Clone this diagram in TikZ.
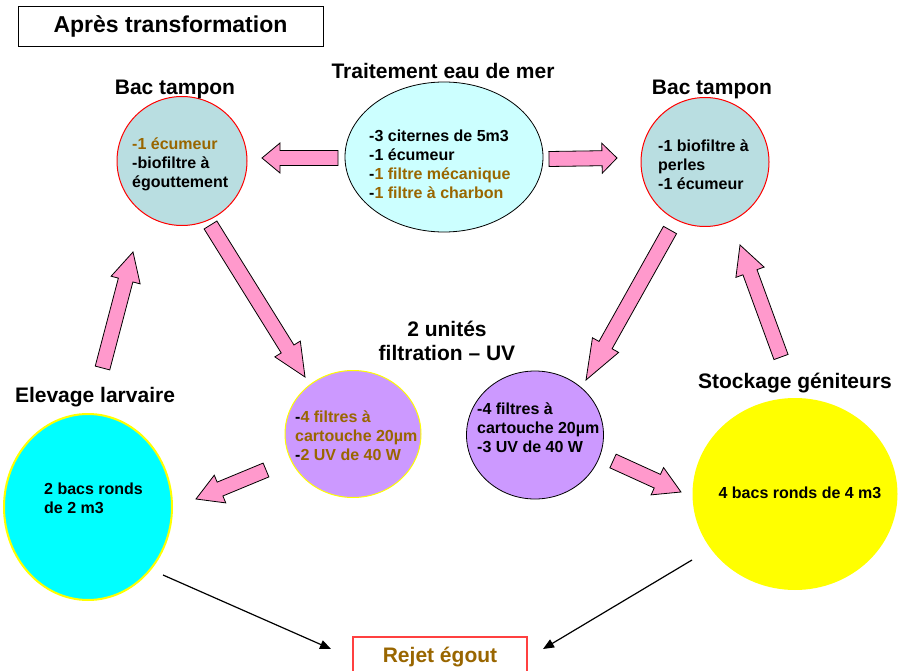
\documentclass[tikz,border=0pt]{standalone}
\usepackage{fontspec}
\setmainfont{Liberation Sans}
\usetikzlibrary{calc,shapes.geometric,arrows.meta}

\definecolor{tealfill}{HTML}{B9DEE1}
\definecolor{palecyan}{HTML}{CCFFFF}
\definecolor{lavender}{HTML}{CC99FF}
\definecolor{purecyan}{HTML}{00FFFF}
\definecolor{pureyellow}{HTML}{FFFF00}
\definecolor{pinkfill}{HTML}{FF99CC}
\definecolor{txtbrown}{HTML}{996600}
\definecolor{boxred}{HTML}{FF4040}

\tikzset{
  tank/.style={ellipse, inner sep=0pt, outer sep=0pt},
  heading/.style={inner sep=0pt, align=center,
    font=\fontsize{21}{24}\selectfont\bfseries},
  contents/.style={anchor=west, inner sep=0pt, align=left,
    font=\fontsize{16}{19}\selectfont\bfseries},
  pinkarrow/.style={fill=pinkfill, draw=black, line width=0.8pt, line join=miter},
  drainarrow/.style={draw=black, line width=1.2pt,
    -{Triangle[length=11pt,width=9pt]}}
}

% block arrow: #1 tail, #2 tip, #3 head length
\newcommand\blockarrow[3]{%
  \coordinate (ba-h) at ($(#2)!#3pt!(#1)$);
  \draw[pinkarrow]
    ($(#1)!7.5pt!90:(#2)$) -- ($(ba-h)!7.5pt!90:(#2)$) --
    ($(ba-h)!15pt!90:(#2)$) -- (#2) -- ($(ba-h)!15pt!-90:(#2)$) --
    ($(ba-h)!7.5pt!-90:(#2)$) -- ($(#1)!7.5pt!-90:(#2)$) -- cycle;
}

\begin{document}
\begin{tikzpicture}[x=1pt, y=-1pt]
\useasboundingbox (0,0) rectangle (900,671);
\fill[white] (0,0) rectangle (900,671);

% title
\node[draw=black, line width=0.8pt, minimum width=305, minimum height=40,
      inner sep=0pt, font=\fontsize{23}{26}\selectfont\bfseries]
      (title) at (170.5,26) {Après transformation};

% tanks
\node[tank, minimum width=130, minimum height=129, fill=tealfill,
      draw=red, line width=1pt] (bacL) at (182,161) {};
\node[tank, minimum width=198, minimum height=150, fill=palecyan,
      draw=black, line width=0.8pt] (sea) at (444,157) {};
\node[tank, minimum width=128, minimum height=129, fill=tealfill,
      draw=red, line width=1pt] (bacR) at (705,162) {};
\node[tank, minimum width=136, minimum height=127, fill=lavender,
      draw=pureyellow, line width=1pt] (uvL) at (353,434) {};
\node[tank, minimum width=137, minimum height=128, fill=lavender,
      draw=black, line width=0.8pt] (uvR) at (535,435) {};
\node[tank, minimum width=168, minimum height=186, fill=purecyan,
      draw=pureyellow, line width=2pt] (larv) at (88,507) {};
\node[tank, minimum width=205, minimum height=192, fill=pureyellow]
      (brood) at (795,494) {};

% headings
\node[heading] (hbacL) at (175,89) {Bac tampon};
\node[heading] (hsea) at (443,71) {Traitement eau de mer};
\node[heading] (hbacR) at (712,89) {Bac tampon};
\node[heading] (huv) at (447,341) {2 unités\\filtration – UV};
\node[heading] (hlarv) at (95,397) {Elevage larvaire};
\node[heading] (hbrood) at (795,383) {Stockage géniteurs};

% contents
\node[contents] (tbacL) at (132,164)
  {\textcolor{txtbrown}{-1 écumeur}\\-biofiltre à\\égouttement};
\node[contents] (tsea) at (369,164.5)
  {-3 citernes de 5m3\\-1 écumeur\\-\textcolor{txtbrown}{1 filtre mécanique}\\-\textcolor{txtbrown}{1 filtre à charbon}};
\node[contents] (tbacR) at (658,164.5)
  {-1 biofiltre à\\perles\\-1 écumeur};
\node[contents] (tuvL) at (295,435.5)
  {-\textcolor{txtbrown}{4 filtres à}\\\textcolor{txtbrown}{cartouche 20µm}\\-\textcolor{txtbrown}{2 UV de 40 W}};
\node[contents] (tuvR) at (477,428)
  {-4 filtres à\\cartouche 20µm\\-3 UV de 40 W};
\node[contents] (tlarv) at (44,498.5) {2 bacs ronds\\de 2 m3};
\node[contents, anchor=center] (tbrood) at (800,493) {4 bacs ronds de 4 m3};

% outlet
\node[draw=boxred, line width=1.3pt, minimum width=174, minimum height=40,
      inner sep=0pt, text=txtbrown, font=\fontsize{21}{24}\selectfont\bfseries]
      (drain) at (440,657) {Rejet égout};

% flow arrow end points
\coordinate (seaL) at (338,158);   \coordinate (bacLin) at (262,158);
\coordinate (seaR) at (549,159);   \coordinate (bacRin) at (617,158);
\coordinate (bacLout) at (210.5,225); \coordinate (uvLin) at (305,377);
\coordinate (bacRout) at (670,230);   \coordinate (uvRin) at (586,380);
\coordinate (larvout) at (102.5,368); \coordinate (bacLret) at (133,252);
\coordinate (broodout) at (781,357);  \coordinate (bacRret) at (740,245);
\coordinate (uvLout) at (266,470);    \coordinate (larvin) at (196,499);
\coordinate (uvRout) at (613,461);    \coordinate (broodin) at (681,492);

\blockarrow{seaL}{bacLin}{18}
\blockarrow{seaR}{bacRin}{15}
\blockarrow{bacLout}{uvLin}{33}
\blockarrow{bacRout}{uvRin}{40}
\blockarrow{larvout}{bacLret}{29}
\blockarrow{broodout}{bacRret}{29}
\blockarrow{uvLout}{larvin}{26}
\blockarrow{uvRout}{broodin}{26}

% discharge lines
\coordinate (larvdis) at (163,575);  \coordinate (drainL) at (331,649);
\coordinate (brooddis) at (692,560); \coordinate (drainR) at (543,649);
\draw[drainarrow] (larvdis) -- (drainL);
\draw[drainarrow] (brooddis) -- (drainR);
\end{tikzpicture}
\end{document}
